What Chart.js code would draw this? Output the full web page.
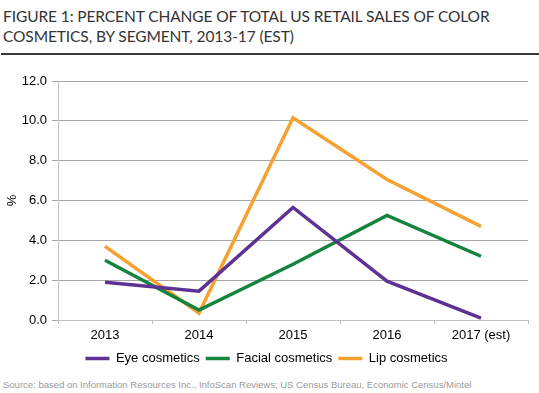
<!DOCTYPE html>
<html>
<head>
<meta charset="utf-8">
<script src="https://cdn.jsdelivr.net/npm/chart.js@4/dist/chart.umd.min.js"></script>
<style>
  html, body { margin: 0; padding: 0; background: #fff; }
  body { width: 539px; height: 393px; position: relative; overflow: hidden; }
  #title { position: absolute; left: 3px; top: 6px; font-family: Lato, sans-serif; font-size: 15.5px; line-height: 20px; color: #333; letter-spacing: -0.1px; }
  #rule { position: absolute; left: 1px; right: 0; top: 53px; height: 2px; background: #3a3a3a; }
  #wrap { position: absolute; left: 0; top: 60px; width: 539px; height: 315px; }
  #source { position: absolute; left: 3px; top: 379px; font-family: "Liberation Sans", Arial, sans-serif; font-size: 9.5px; color: #9a9a9a; }
</style>
</head>
<body>
<div id="title">FIGURE 1: PERCENT CHANGE OF TOTAL US RETAIL SALES OF COLOR<br>COSMETICS, BY SEGMENT, 2013-17 (EST)</div>
<div id="rule"></div>
<div id="wrap"><canvas id="c" width="539" height="315"></canvas></div>
<div id="source">Source: based on Information Resources Inc., InfoScan Reviews; US Census Bureau, Economic Census/Mintel</div>
<script>
const categories = ["2013", "2014", "2015", "2016", "2017 (est)"];
const eyeCosmetics = [1.9, 1.45, 5.65, 1.95, 0.1];
const facialCosmetics = [3.0, 0.5, 2.8, 5.25, 3.2];
const lipCosmetics = [3.7, 0.35, 10.15, 7.05, 4.7];
const seriesNames = ["Eye cosmetics", "Facial cosmetics", "Lip cosmetics"];
const yTicks = [0, 2, 4, 6, 8, 10, 12];

const font = { family: "'Liberation Sans', Arial, sans-serif", size: 13 };
const mk = (label, data, color) => ({
  label, data, borderColor: color, backgroundColor: color,
  borderWidth: 3.5, pointRadius: 0, pointHoverRadius: 0, tension: 0, fill: false
});

new Chart(document.getElementById('c'), {
  type: 'line',
  data: {
    labels: categories,
    datasets: [
      mk(seriesNames[0], eyeCosmetics, '#5f3192'),
      mk(seriesNames[1], facialCosmetics, '#14833c'),
      mk(seriesNames[2], lipCosmetics, '#f7a131')
    ]
  },
  options: {
    responsive: false,
    animation: false,
    devicePixelRatio: 1,
    layout: { padding: { top: 21, right: 11, left: 5, bottom: 0 } },
    plugins: {
      tooltip: { enabled: false },
      legend: {
        position: 'bottom',
        labels: {
          font, color: '#000', usePointStyle: true, pointStyle: 'line',
          pointStyleWidth: 24, boxHeight: 3, padding: 6
        }
      }
    },
    scales: {
      x: {
        offset: true,
        grid: { offset: true, drawOnChartArea: false, drawTicks: true, tickLength: 4, color: '#bfbfbf' },
        border: { color: '#bfbfbf', width: 1 },
        ticks: { font, color: '#000', padding: 4 },
        afterFit: s => { s.height = 26; }
      },
      y: {
        min: 0, max: 12,
        afterBuildTicks: s => { s.ticks = yTicks.map(v => ({ value: v })); },
        grid: { color: '#a6a6a6', tickLength: 6, lineWidth: 1 },
        border: { color: '#c4c4c4', width: 1 },
        ticks: { font, color: '#000', padding: 5, callback: v => v.toFixed(1) },
        title: { display: true, text: '%', font: { ...font, size: 13 }, color: '#000', padding: { top: 0, bottom: 0 } },
        afterFit: s => { s.width = 53; }
      }
    }
  }
});
</script>
</body>
</html>
